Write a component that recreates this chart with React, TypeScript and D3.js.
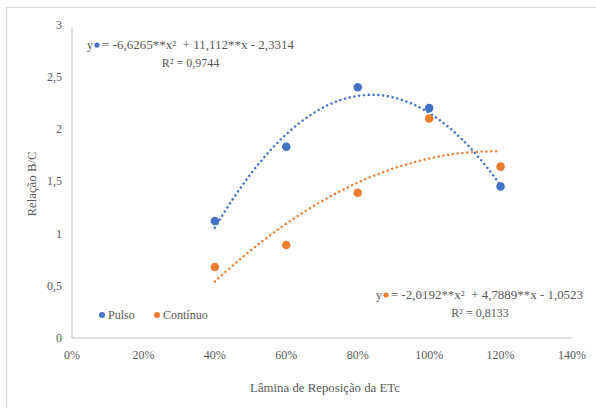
import React from "react";
import * as d3 from "d3";

const xValues = [0.4, 0.6, 0.8, 1.0, 1.2];
const pulso = [1.12, 1.83, 2.40, 2.20, 1.45];
const continuo = [0.68, 0.89, 1.39, 2.10, 1.64];
const pulsoCoef = [-6.6265, 11.112, -2.3314];
const continuoCoef = [-2.0192, 4.7889, -1.0523];
const xTicks = [0, 0.2, 0.4, 0.6, 0.8, 1.0, 1.2, 1.4];
const yTicks = [0, 0.5, 1, 1.5, 2, 2.5, 3];

const BLUE = "#4472C4";
const ORANGE = "#ED7D31";
const TEXT = "#595959";
const FONT = "Liberation Serif";

export default function App() {
  const W = 596, H = 408;
  const x = d3.scaleLinear().domain([0, 1.4]).range([72, 572]);
  const y = d3.scaleLinear().domain([0, 3]).range([338, 24.5]);
  const fmtY = (v: number) => String(v).replace(".", ",");
  const fmtX = (v: number) => `${Math.round(v * 100)}%`;

  const trend = (c: number[]) => {
    const xs = d3.range(0.4, 1.2001, 0.01);
    return d3.line<number>()
      .x((d) => x(d))
      .y((d) => y(c[0] * d * d + c[1] * d + c[2]))
      .curve(d3.curveMonotoneX)(xs) as string;
  };

  const ts = { fontFamily: FONT, whiteSpace: "pre" as const };

  return (
    <svg width={W} height={H} style={{ display: "block", position: "absolute", left: 0, top: 0 }}>
      <rect x={0} y={0} width={W} height={H} fill="#fff" />
      <rect x={6.5} y={7.5} width={W} height={H} fill="none" stroke="#D9D9D9" strokeWidth={1} />
      <line x1={x(0)} x2={x(1.4)} y1={y(0)} y2={y(0)} stroke="#BFBFBF" strokeWidth={1} />
      <line x1={x(0)} x2={x(0)} y1={y(0)} y2={27} stroke="#BFBFBF" strokeWidth={1} />
      {yTicks.map((t) => (
        <text key={"y" + t} style={ts} x={62} y={y(t)} dy="0.35em" textAnchor="end" fontSize={12} fill={TEXT}>
          {fmtY(t)}
        </text>
      ))}
      {xTicks.map((t) => (
        <text key={"x" + t} style={ts} x={x(t)} y={355} dy="0.35em" textAnchor="middle" fontSize={12} fill={TEXT}>
          {fmtX(t)}
        </text>
      ))}
      <text style={ts} x={325} y={388} dy="0.35em" textAnchor="middle" fontSize={12.8} fill={TEXT}>
        Lâmina de Reposição da ETc
      </text>
      <text style={ts} transform={`translate(32,184) rotate(-90)`} dy="0.35em" textAnchor="middle" fontSize={12.8} fill={TEXT}>
        Relação B/C
      </text>
      <path d={trend(pulsoCoef)} fill="none" stroke={BLUE} strokeWidth={2.5} strokeDasharray="0.01 4.8" strokeLinecap="round" />
      <path d={trend(continuoCoef)} fill="none" stroke={ORANGE} strokeWidth={2.5} strokeDasharray="0.01 4.8" strokeLinecap="round" />
      {xValues.map((v, i) => (
        <circle key={"p" + i} cx={x(v)} cy={y(pulso[i])} r={4.3} fill={BLUE} />
      ))}
      {xValues.map((v, i) => (
        <circle key={"c" + i} cx={x(v)} cy={y(continuo[i])} r={4.3} fill={ORANGE} />
      ))}
      <text style={ts} x={87} y={45} dy="0.35em" fontSize={12} fill={TEXT}>y</text>
      <text style={ts} x={102} y={45} dy="0.35em" fontSize={12} fill={TEXT} textLength={192} lengthAdjust="spacingAndGlyphs">
        {"= -6,6265**x²  + 11,112**x - 2,3314"}
      </text>
      <circle cx={97} cy={45} r={2.6} fill={BLUE} />
      <text style={ts} x={190.5} y={63} dy="0.35em" textAnchor="middle" fontSize={12} fill={TEXT}>
        R² = 0,9744
      </text>
      <text style={ts} x={376} y={295} dy="0.35em" fontSize={12} fill={TEXT}>y</text>
      <text style={ts} x={391} y={295} dy="0.35em" fontSize={12} fill={TEXT} textLength={192} lengthAdjust="spacingAndGlyphs">
        {"= -2,0192**x²  + 4,7889**x - 1,0523"}
      </text>
      <circle cx={386} cy={295} r={2.6} fill={ORANGE} />
      <text style={ts} x={480} y={313} dy="0.35em" textAnchor="middle" fontSize={12} fill={TEXT}>
        R² = 0,8133
      </text>
      <circle cx={102} cy={315} r={3} fill={BLUE} />
      <text style={ts} x={108} y={315} dy="0.35em" fontSize={12} fill={TEXT}>Pulso</text>
      <circle cx={157} cy={315} r={3} fill={ORANGE} />
      <text style={ts} x={163} y={315} dy="0.35em" fontSize={12} fill={TEXT}>Contínuo</text>
    </svg>
  );
}
